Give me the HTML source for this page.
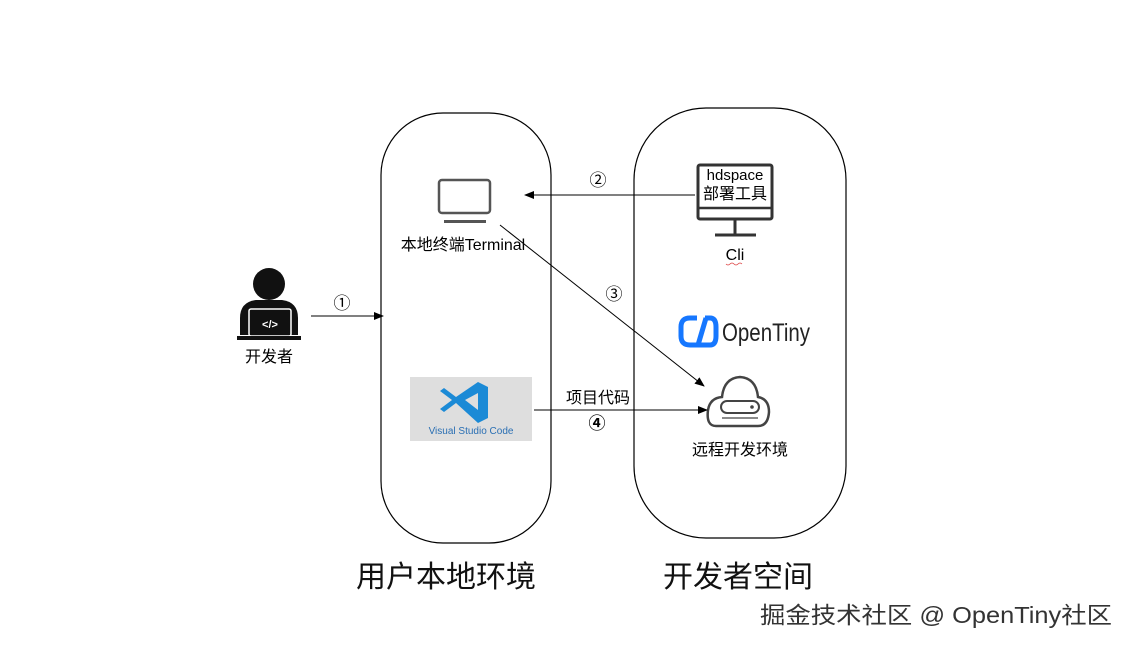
<!DOCTYPE html>
<html><head><meta charset="utf-8"><style>
body{margin:0;background:#fff;}
svg text{font-family:"Liberation Sans","Noto Sans CJK SC",sans-serif;}
</style></head><body>
<svg width="1132" height="649" viewBox="0 0 1132 649" xmlns="http://www.w3.org/2000/svg">
<defs><marker id="a" markerWidth="10" markerHeight="8" refX="9" refY="4" orient="auto" markerUnits="userSpaceOnUse"><path d="M0,0 L10,4 L0,8 z" fill="#000"/></marker></defs>
<rect x="381" y="113" width="170" height="430" rx="62" fill="none" stroke="#000" stroke-width="1.2"/>
<rect x="634" y="108" width="212" height="430" rx="72" fill="none" stroke="#000" stroke-width="1.2"/>
<text x="446" y="587" font-size="30" text-anchor="middle" fill="#111">用户本地环境</text>
<text x="738" y="587" font-size="30" text-anchor="middle" fill="#111">开发者空间</text>
<text x="936" y="623" font-size="23" text-anchor="middle" fill="#333" textLength="352" lengthAdjust="spacingAndGlyphs">掘金技术社区 @ OpenTiny社区</text>
<!-- person -->
<circle cx="269" cy="284" r="16" fill="#111"/>
<path d="M240,335 L240,318 Q240,302 256,300 L282,300 Q298,302 298,318 L298,335 Z" fill="#111"/>
<rect x="249" y="309" width="42" height="27" rx="2" fill="#111" stroke="#fff" stroke-width="1.5"/>
<rect x="237" y="336" width="64" height="4" fill="#111"/>
<text x="270" y="328" font-size="11" fill="#fff" text-anchor="middle" font-weight="bold">&lt;/&gt;</text>
<text x="269" y="362" font-size="16" text-anchor="middle">开发者</text>
<text x="342" y="309" font-size="17" text-anchor="middle">①</text>
<line x1="311" y1="316" x2="383" y2="316" stroke="#000" marker-end="url(#a)"/>
<!-- laptop -->
<rect x="439" y="180" width="51" height="33" rx="3" fill="none" stroke="#555" stroke-width="2.5"/>
<rect x="444" y="220" width="42" height="3" fill="#555"/>
<text x="463" y="250" font-size="16" text-anchor="middle">本地终端Terminal</text>
<!-- arrow 2 -->
<line x1="695" y1="195" x2="525" y2="195" stroke="#000" marker-end="url(#a)"/>
<text x="598" y="186" font-size="17" text-anchor="middle">②</text>
<!-- monitor -->
<rect x="698" y="165" width="74" height="54" rx="2" fill="none" stroke="#333" stroke-width="3"/>
<line x1="698" y1="208" x2="772" y2="208" stroke="#333" stroke-width="2.5"/>
<line x1="735" y1="219" x2="735" y2="234" stroke="#333" stroke-width="3"/>
<line x1="715" y1="235" x2="756" y2="235" stroke="#333" stroke-width="3"/>
<text x="735" y="180" font-size="15" text-anchor="middle">hdspace</text>
<text x="735" y="199" font-size="16" text-anchor="middle">部署工具</text>
<text x="735" y="260" font-size="16" text-anchor="middle">Cli</text>
<path d="M726,264 q2,2 4,0 q2,-2 4,0 q2,2 4,0 q2,-2 4,0" stroke="#d44" fill="none" stroke-width="0.8"/>
<!-- arrow 3 -->
<line x1="500" y1="225" x2="704" y2="386" stroke="#000" marker-end="url(#a)"/>
<text x="614" y="300" font-size="17" text-anchor="middle">③</text>
<!-- opentiny -->
<path d="M697,318 L690,318 Q681,318 681,327 L681,336 Q681,345 690,345 L697,345" fill="none" stroke="#1677ff" stroke-width="5"/>
<path d="M705,318 L710,318 Q716,318 716,327 L716,336 Q716,345 710,345 L698,345 L706,318" fill="none" stroke="#1677ff" stroke-width="5"/>
<text x="722" y="341" font-size="25" fill="#222" textLength="88" lengthAdjust="spacingAndGlyphs">OpenTiny</text>
<!-- cloud -->
<path d="M716,426 Q706,426 708,410 Q710,398 722,397 Q724,378 740,377 Q756,378 758,397 Q769,399 769,412 Q768,426 758,426 Z" fill="none" stroke="#444" stroke-width="2.5"/>
<rect x="721" y="401" width="38" height="12" rx="6" fill="none" stroke="#444" stroke-width="2"/>
<circle cx="752" cy="407" r="1.8" fill="#444"/>
<line x1="722" y1="418" x2="758" y2="418" stroke="#444" stroke-width="1.2"/>
<text x="740" y="455" font-size="16" text-anchor="middle">远程开发环境</text>
<!-- vscode -->
<rect x="410" y="377" width="122" height="64" fill="#dedede"/>
<path d="M478,382 L488,387 L488,418 L478,423 L456,403 L444,412 L440,409 L452,400 L440,391 L444,388 L456,397 Z M478,393 L465,400 L478,410 Z" fill="#1b8ad6" fill-rule="evenodd"/>
<text x="471" y="434" font-size="10" fill="#2a6fb3" text-anchor="middle">Visual Studio Code</text>
<!-- arrow 4 -->
<line x1="534" y1="410" x2="707" y2="410" stroke="#000" marker-end="url(#a)"/>
<text x="598" y="403" font-size="16" text-anchor="middle">项目代码</text>
<text x="597" y="429" font-size="17" text-anchor="middle" font-weight="bold">④</text>
</svg>
</body></html>
